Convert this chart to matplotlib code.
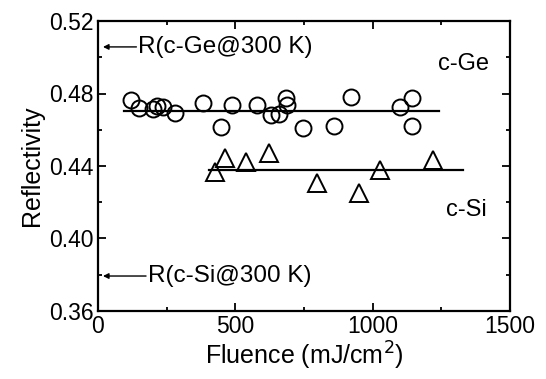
import matplotlib.pyplot as plt
from matplotlib.ticker import MultipleLocator

plt.rcParams['font.family'] = ['Liberation Sans', 'DejaVu Sans']

# c-Ge data (circles)
ge_fluence = [120, 149, 200, 215, 235, 280, 382, 448, 488, 579, 630, 659, 684, 688, 746, 859, 921, 1099, 1143, 1143]
ge_refl = [0.4764, 0.4720, 0.4714, 0.4730, 0.4726, 0.4692, 0.4748, 0.4615, 0.4737, 0.4737, 0.4680, 0.4687, 0.4775, 0.4737, 0.4610, 0.4620, 0.4780, 0.4726, 0.4775, 0.4620]

# c-Si data (triangles)
si_fluence = [426, 462, 539, 622, 797, 950, 1027, 1220]
si_refl = [0.4367, 0.4444, 0.4422, 0.4472, 0.4306, 0.4251, 0.4378, 0.4433]

# mean lines
ge_line_x = [95, 1240]
ge_line_y = [0.4703, 0.4703]
si_line_x = [404, 1329]
si_line_y = [0.4378, 0.4378]

# room temperature reflectivities
r_ge_300k = 0.5057
r_si_300k = 0.3793

fig = plt.figure(figsize=(5.46, 3.79), dpi=100)
ax = fig.add_axes([98 / 546, 1 - 311 / 379, 412 / 546, 290 / 379])

ax.plot(ge_fluence, ge_refl, 'o', mfc='none', mec='black', ms=11.5, mew=1.4)
ax.plot(si_fluence, si_refl, '^', mfc='none', mec='black', ms=12.5, mew=1.4)
ax.plot(ge_line_x, ge_line_y, color='black', lw=1.6)
ax.plot(si_line_x, si_line_y, color='black', lw=1.6)

ax.annotate('', xy=(8, r_ge_300k), xytext=(150, r_ge_300k),
            arrowprops=dict(arrowstyle='-|>', color='black', lw=1.0, mutation_scale=8))
ax.text(147, r_ge_300k, 'R(c-Ge@300 K)', fontsize=17.5, va='center', ha='left')
ax.annotate('', xy=(8, r_si_300k), xytext=(185, r_si_300k),
            arrowprops=dict(arrowstyle='-|>', color='black', lw=1.0, mutation_scale=8))
ax.text(182, r_si_300k, 'R(c-Si@300 K)', fontsize=17.5, va='center', ha='left')

ax.text(1332, 0.4965, 'c-Ge', fontsize=17, ha='center', va='center')
ax.text(1340, 0.4160, 'c-Si', fontsize=17, ha='center', va='center')

ax.set_xlim(0, 1500)
ax.set_ylim(0.36, 0.52)
ax.xaxis.set_major_locator(MultipleLocator(500))
ax.xaxis.set_minor_locator(MultipleLocator(250))
ax.yaxis.set_major_locator(MultipleLocator(0.04))
ax.yaxis.set_minor_locator(MultipleLocator(0.02))
ax.yaxis.set_major_formatter(plt.FormatStrFormatter('%.2f'))
ax.tick_params(which='both', direction='in', top=True, right=True, labelsize=16.5, width=1.3)
ax.tick_params(which='major', length=6, pad=3)
ax.tick_params(which='minor', length=3)
for s in ax.spines.values():
    s.set_linewidth(1.6)

ax.set_xlabel('Fluence (mJ/cm$^2$)', fontsize=18, labelpad=1)
ax.set_ylabel('Reflectivity', fontsize=18, labelpad=4)

fig.savefig('out.png', dpi=100)
